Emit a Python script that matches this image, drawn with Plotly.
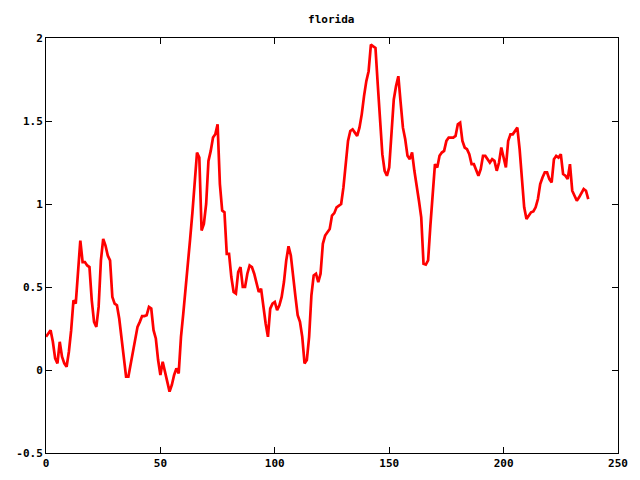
import plotly.graph_objects as go

title_text = "florida"
x_values = list(range(238))
y_values = [
    0.20, 0.22, 0.24, 0.17, 0.07, 0.04, 0.17, 0.08, 0.04, 0.02,
    0.11, 0.24, 0.42, 0.40, 0.60, 0.78, 0.65, 0.65, 0.63, 0.62,
    0.42, 0.29, 0.26, 0.38, 0.66, 0.79, 0.75, 0.69, 0.66, 0.44,
    0.40, 0.39, 0.31, 0.20, 0.10, -0.04, -0.04, 0.03, 0.12, 0.19,
    0.26, 0.29, 0.325, 0.325, 0.33, 0.38, 0.37, 0.24, 0.19, 0.06,
    -0.03, 0.05, -0.02, -0.07, -0.13, -0.09, -0.03, 0.01, -0.02, 0.20,
    0.34, 0.48, 0.62, 0.79, 0.95, 1.12, 1.31, 1.28, 0.84, 0.88,
    1.00, 1.26, 1.32, 1.40, 1.42, 1.48, 1.12, 0.96, 0.95, 0.70,
    0.70, 0.56, 0.47, 0.46, 0.59, 0.62, 0.50, 0.50, 0.58, 0.63,
    0.62, 0.58, 0.53, 0.47, 0.49, 0.37, 0.28, 0.20, 0.37, 0.40,
    0.41, 0.36, 0.39, 0.44, 0.53, 0.66, 0.745, 0.69, 0.55, 0.445,
    0.33, 0.29, 0.20, 0.04, 0.06, 0.20, 0.45, 0.57, 0.58, 0.53,
    0.58, 0.76, 0.81, 0.83, 0.85, 0.93, 0.945, 0.98, 0.99, 1.00,
    1.10, 1.26, 1.38, 1.44, 1.45, 1.43, 1.41, 1.46, 1.54, 1.65,
    1.74, 1.80, 1.96, 1.95, 1.94, 1.72, 1.47, 1.30, 1.20, 1.17,
    1.22, 1.45, 1.63, 1.71, 1.77, 1.61, 1.46, 1.39, 1.29, 1.27,
    1.31, 1.20, 1.12, 1.02, 0.92, 0.64, 0.635, 0.66, 0.87, 1.08,
    1.24, 1.22, 1.29, 1.31, 1.32, 1.38, 1.40, 1.40, 1.40, 1.41,
    1.48, 1.49, 1.38, 1.34, 1.33, 1.30, 1.24, 1.24, 1.20, 1.17,
    1.21, 1.29, 1.29, 1.27, 1.25, 1.27, 1.26, 1.20, 1.25, 1.34,
    1.28, 1.22, 1.38, 1.42, 1.42, 1.44, 1.46, 1.33, 1.13, 0.98,
    0.91, 0.93, 0.95, 0.955, 0.98, 1.03, 1.12, 1.16, 1.19, 1.19,
    1.15, 1.13, 1.27, 1.29, 1.28, 1.30, 1.18, 1.17, 1.15, 1.24,
    1.08, 1.05, 1.02, 1.04, 1.07, 1.09, 1.08, 1.03,
]
x_ticks = [0, 50, 100, 150, 200, 250]
y_ticks = [-0.5, 0, 0.5, 1, 1.5, 2]
y_tick_labels = ["-0.5", "0", "0.5", "1", "1.5", "2"]

font = dict(family="DejaVu Sans Mono", size=11, color="black", weight="bold")

fig = go.Figure()
fig.add_trace(go.Scatter(
    x=x_values, y=y_values, mode="lines",
    line=dict(color="#ff0000", width=2.7),
    showlegend=False, hoverinfo="skip",
))

axis_common = dict(
    showgrid=False, zeroline=False, showline=True, linecolor="black",
    linewidth=1, mirror="ticks", ticks="inside", ticklen=6,
    tickcolor="black", tickwidth=1, tickfont=font, automargin=False,
)
fig.update_layout(
    width=640, height=480,
    paper_bgcolor="white", plot_bgcolor="white",
    margin=dict(l=38, r=30, t=30, b=35),
    title=dict(text=title_text, x=0.505, xanchor="center", xref="container",
               y=0.977, yref="container", yanchor="middle", font=font),
    xaxis=dict(range=[0, 250], tickvals=x_ticks, **axis_common),
    yaxis=dict(range=[-0.5, 2], tickvals=y_ticks, ticktext=y_tick_labels,
               **axis_common),
)
fig.write_html("out.html")
